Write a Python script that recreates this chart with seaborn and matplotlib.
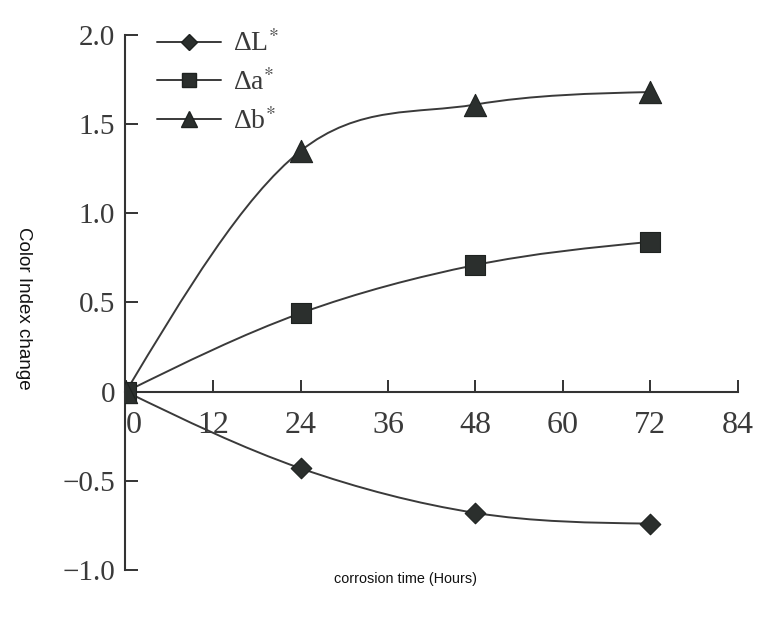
import matplotlib
matplotlib.use('Agg')
import matplotlib.pyplot as plt
import numpy as np
import seaborn as sns
from matplotlib.lines import Line2D
from matplotlib.path import Path
from matplotlib.patches import PathPatch

# data
hours = [0, 24, 48, 72]
delta_L = [0.0, -0.43, -0.68, -0.74]
delta_a = [0.0, 0.44, 0.71, 0.84]
delta_b = [0.0, 1.35, 1.61, 1.68]

series_names = ['ΔL$^{*}$', 'Δa$^{*}$', 'Δb$^{*}$']
series_values = [delta_L, delta_a, delta_b]
series_markers = ['D', 's', '^']

x_ticks = [0, 12, 24, 36, 48, 60, 72, 84]
y_ticks = [-1.0, -0.5, 0, 0.5, 1.0, 1.5, 2.0]
y_tick_labels = ['\u22121.0', '\u22120.5', '0', '0.5', '1.0', '1.5', '2.0']

sns.set_style('ticks')
plt.rcParams['font.family'] = ['Liberation Serif', 'DejaVu Serif']
plt.rcParams['mathtext.fontset'] = 'stix'

ink = '#2b2f2d'
line_col = '#3a3a3a'
marker_size = {'D': 10.5, 's': 14, '^': 16}
legend_size = {'D': 8.5, 's': 10, '^': 12}


def knot_slopes(x, y):
    # Catmull-Rom style tangents, clipped so the curve does not overshoot,
    # with zero curvature at both ends
    x = np.asarray(x, float)
    y = np.asarray(y, float)
    d = np.diff(y) / np.diff(x)
    m = np.zeros(len(x))
    for i in range(1, len(x) - 1):
        m[i] = (y[i + 1] - y[i - 1]) / (x[i + 1] - x[i - 1])
        lim = 3 * min(abs(d[i - 1]), abs(d[i]))
        m[i] = np.sign(m[i]) * min(abs(m[i]), lim)
    m[0] = (3 * d[0] - m[1]) / 2
    m[-1] = (3 * d[-1] - m[-2]) / 2
    return m


def smooth_path(x, y):
    m = knot_slopes(x, y)
    verts = [(x[0], y[0])]
    codes = [Path.MOVETO]
    for i in range(len(x) - 1):
        h = x[i + 1] - x[i]
        verts += [(x[i] + h / 3, y[i] + h / 3 * m[i]),
                  (x[i + 1] - h / 3, y[i + 1] - h / 3 * m[i + 1]),
                  (x[i + 1], y[i + 1])]
        codes += [Path.CURVE4] * 3
    return Path(verts, codes)


fig = plt.figure(figsize=(7.68, 6.35), dpi=100)
ax = fig.add_axes([0.1628, 0.1024, 0.798, 0.8425])

for name, values, mk in zip(series_names, series_values, series_markers):
    ax.add_patch(PathPatch(smooth_path(hours, values), fill=False,
                           edgecolor=line_col, lw=1.4, zorder=2))
    sns.scatterplot(x=hours, y=values, marker=mk, s=marker_size[mk] ** 2,
                    color=ink, edgecolor='#1e2220', linewidth=0.8,
                    ax=ax, zorder=3, legend=False)

ax.set_xlim(-0.12, 84.05)
ax.set_ylim(-1.0, 2.0)

ax.spines['top'].set_visible(False)
ax.spines['right'].set_visible(False)
ax.spines['bottom'].set_position(('data', 0))
for side in ['left', 'bottom']:
    ax.spines[side].set_color('#333333')
    ax.spines[side].set_linewidth(1.5)

ax.set_xticks(x_ticks)
ax.set_xticklabels([str(t) for t in x_ticks])
ax.set_yticks(y_ticks)
ax.set_yticklabels(y_tick_labels)
ax.tick_params(axis='both', direction='in', length=9, width=1.4,
               color='#333333', labelcolor='#3a3a3a')
ax.tick_params(axis='x', pad=14, labelsize=23)
ax.tick_params(axis='y', pad=7, labelsize=21)
ax.get_xticklabels()[0].set_horizontalalignment('left')

ax.set_ylabel('Color Index change', family='Liberation Sans', fontsize=13.5,
              color='#111111', rotation=270, va='center', ha='center')
ax.yaxis.set_label_coords(-0.165, 0.49)
ax.set_xlabel('corrosion time (Hours)', family='Liberation Sans', fontsize=10.4,
              color='#111111', va='center')
ax.xaxis.set_label_coords(0.457, -0.017)

handles = [Line2D([], [], color=line_col, lw=1.4, marker=mk, ms=legend_size[mk],
                  markerfacecolor=ink, markeredgecolor='#1e2220')
           for mk in series_markers]
ax.legend(handles, series_names, loc='upper left', bbox_to_anchor=(0.204, 0.952),
          bbox_transform=fig.transFigure, frameon=False, fontsize=20,
          handlelength=2.3, handletextpad=0.45, labelspacing=0.42,
          borderpad=0, borderaxespad=0, labelcolor='#3a3a3a')

fig.savefig('out.png', dpi=100)
